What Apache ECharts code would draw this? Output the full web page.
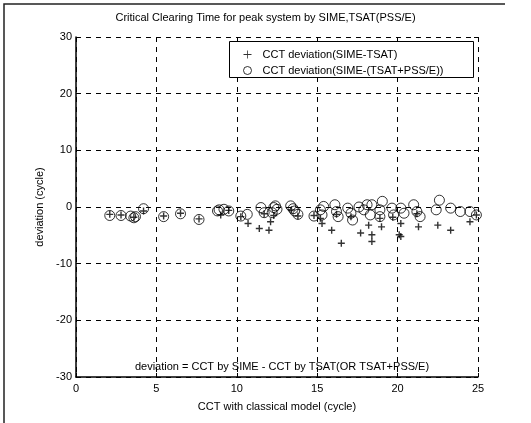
<!DOCTYPE html>
<html>
<head>
<meta charset="utf-8">
<script src="https://cdn.jsdelivr.net/npm/echarts@6/dist/echarts.min.js"></script>
<style>
html,body{margin:0;padding:0;background:#fff;}
#chart{width:531px;height:423px;}
</style>
</head>
<body>
<div id="chart"></div>
<script>
// ---- data ----
var titleText = 'Critical Clearing Time for peak system by SIME,TSAT(PSS/E)';
var xName = 'CCT with classical model (cycle)';
var yName = 'deviation (cycle)';
var seriesNames = ['CCT deviation(SIME-TSAT)', 'CCT deviation(SIME-(TSAT+PSS/E))'];
var noteText = 'deviation = CCT by SIME - CCT by TSAT(OR TSAT+PSS/E)';
var xTicks = [0, 5, 10, 15, 20, 25];
var yTicks = [-30, -20, -10, 0, 10, 20, 30];

// SIME - TSAT  (plus markers)
var plusX = [2.1, 2.8, 3.6, 4.2, 5.45, 6.5, 7.65, 9.0, 9.5, 10.25, 10.7, 11.4, 11.7, 12.0, 12.1, 12.3, 13.4, 13.8, 14.8, 15.2,
             15.3, 15.9, 16.2, 16.5, 17.1, 17.7, 18.2, 18.4, 18.4, 18.9, 19.0, 19.7, 20.1, 20.2, 20.2, 21.2, 21.3, 22.5, 23.3, 24.5, 24.9];
var plusY = [-1.3, -1.4, -1.8, -0.7, -1.6, -1.1, -2.1, -1.4, -0.6, -1.7, -2.9, -3.8, -1.2, -4.1, -2.6, -1.5, -0.5, -1.6, -1.5, -2.0,
             -2.9, -4.1, -1.3, -6.4, -1.7, -4.6, -3.2, -4.9, -6.1, -2.0, -3.5, -1.8, -4.9, -2.9, -5.2, -1.2, -3.5, -3.2, -4.1, -2.6, -1.4];

// SIME - (TSAT+PSS/E)  (open circles)
var circX = [2.1, 2.8, 3.4, 3.6, 3.7, 4.2, 5.45, 6.5, 7.65, 8.8, 8.9, 9.2, 9.5, 10.25, 10.65, 11.5, 11.7, 12.2, 12.3, 12.4,
             12.5, 13.35, 13.5, 13.6, 13.8, 14.8, 15.2, 15.3, 15.4, 16.1, 16.2, 16.3, 16.9, 17.1, 17.2, 17.6, 17.9, 18.1, 18.3, 18.4,
             18.9, 18.9, 19.05, 19.65, 19.75, 20.2, 20.4, 21.0, 21.2, 21.4, 22.4, 22.6, 23.3, 23.9, 24.5, 24.9];
var circY = [-1.5, -1.5, -1.6, -1.9, -1.7, -0.3, -1.7, -1.2, -2.2, -0.7, -0.5, -0.4, -0.7, -1.6, -1.3, -0.1, -1.0, -1.0, -0.1, 0.2,
             -0.4, 0.2, -0.3, -0.7, -1.3, -1.6, -0.5, -1.4, 0.1, 0.4, -0.8, -1.7, -0.2, -1.1, -2.3, 0.0, -0.5, 0.4, -1.4, 0.4,
             -0.5, -1.7, 1.0, -0.2, -1.4, -0.2, -1.1, 0.4, -0.8, -1.7, -0.5, 1.2, -0.2, -0.8, -0.8, -1.4];

function pairs(xs, ys) { return xs.map(function (x, i) { return [x, ys[i]]; }); }

var FONT = '"Liberation Sans", Arial, sans-serif';
var plusPath = 'path://M4,0h2v10h-2zM0,4h10v2h-10z';
var plusThin = 'path://M4.5,0h1v10h-1zM0,4.5h10v1h-10z';

var chart = echarts.init(document.getElementById('chart'), null, {renderer: 'canvas'});
var dashed = {show: true, lineStyle: {color: '#000', type: [5, 5], width: 1}};

chart.setOption({
  backgroundColor: '#fff',
  animation: false,
  title: {
    text: titleText, left: 'center', top: 7,
    textStyle: {fontFamily: FONT, fontSize: 11, fontWeight: 'normal', color: '#000'}
  },
  legend: {
    left: 238, top: 44, z: 20, orient: 'vertical', itemGap: 5, itemWidth: 20, itemHeight: 8,
    textStyle: {fontFamily: FONT, fontSize: 11, color: '#000'},
    data: [
      {name: seriesNames[0], icon: plusThin, itemStyle: {color: '#000', borderWidth: 0}},
      {name: seriesNames[1], icon: 'circle', itemStyle: {color: '#fff', borderColor: '#000', borderWidth: 1}}
    ]
  },
  grid: {left: 76, right: 53, top: 37, bottom: 46, containLabel: false},
  xAxis: [{
    type: 'value', min: xTicks[0], max: xTicks[xTicks.length - 1], interval: 5,
    name: xName, nameLocation: 'middle', nameGap: 24,
    nameTextStyle: {fontFamily: FONT, fontSize: 11, color: '#000'},
    axisLine: {show: true, onZero: false, lineStyle: {color: '#000', width: 1.5}},
    axisTick: {show: true, inside: true, length: 4, lineStyle: {color: '#000'}},
    axisLabel: {fontFamily: FONT, fontSize: 11, color: '#000', margin: 6},
    splitLine: dashed
  }, {
    type: 'value', position: 'top', min: 0, max: 25, interval: 5,
    axisLine: {show: false, onZero: false}, axisTick: {show: true, inside: true, length: 4, lineStyle: {color: '#000'}},
    axisLabel: {show: false}, splitLine: {show: false}
  }],
  yAxis: [{
    type: 'value', min: yTicks[0], max: yTicks[yTicks.length - 1], interval: 10,
    name: yName, nameLocation: 'middle', nameGap: 31, nameRotate: 90,
    nameTextStyle: {fontFamily: FONT, fontSize: 11, color: '#000'},
    axisLine: {show: true, onZero: false, lineStyle: {color: '#000', width: 1.5}},
    axisTick: {show: true, inside: true, length: 4, lineStyle: {color: '#000'}},
    axisLabel: {fontFamily: FONT, fontSize: 11, color: '#000', margin: 4},
    splitLine: dashed
  }, {
    type: 'value', position: 'right', min: -30, max: 30, interval: 10,
    axisLine: {show: false, onZero: false}, axisTick: {show: true, inside: true, length: 4, lineStyle: {color: '#000'}},
    axisLabel: {show: false}, splitLine: {show: false}
  }],
  graphic: [
    {type: 'polyline', silent: true, shape: {points: [[4, 423], [4, 4], [505, 4]]},
     style: {stroke: '#222', lineWidth: 1.5, fill: null}},
    {type: 'rect', silent: true, z: 5, shape: {x: 229.5, y: 41.5, width: 244, height: 36},
     style: {stroke: '#000', lineWidth: 1, fill: '#fff'}},
    {type: 'text', silent: true, z: 10, x: 282, y: 367,
     style: {text: noteText, fontFamily: FONT, fontSize: 11, fill: '#000', textAlign: 'center', textVerticalAlign: 'middle'}}
  ],
  series: [
    {
      name: seriesNames[0], type: 'scatter', data: pairs(plusX, plusY),
      symbol: plusPath, symbolSize: 7, z: 3,
      itemStyle: {color: '#000'}
    },
    {
      name: seriesNames[1], type: 'scatter', data: pairs(circX, circY),
      symbol: 'circle', symbolSize: 10, z: 2,
      itemStyle: {color: 'rgba(255,255,255,0)', borderColor: '#000', borderWidth: 1}
    }
  ]
});
</script>
</body>
</html>
